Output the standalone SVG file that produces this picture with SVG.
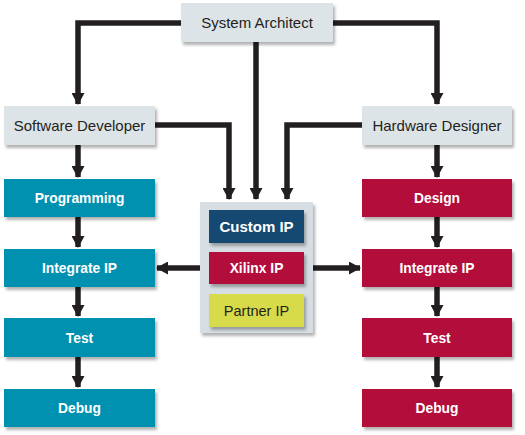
<svg xmlns="http://www.w3.org/2000/svg" width="525" height="435" viewBox="0 0 525 435">
<defs>
<filter id="sh" x="-10%" y="-10%" width="130%" height="140%">
<feDropShadow dx="2" dy="3" stdDeviation="1.5" flood-color="#000" flood-opacity="0.3"/>
</filter>
<marker id="ah" markerUnits="userSpaceOnUse" markerWidth="14" markerHeight="13" refX="11" refY="6.5" orient="auto">
<path d="M0,0 L12,6.5 L0,13 Z" fill="#231f20"/>
</marker>
</defs>
<style>
.g{fill:#dde4e8;filter:url(#sh)}
.t{fill:#0091b0;filter:url(#sh)}
.r{fill:#b3103a;filter:url(#sh)}
.dk{font-family:"Liberation Sans",Arial,sans-serif;font-size:15px;fill:#231f20;text-anchor:middle}
.w{font-family:"Liberation Sans",Arial,sans-serif;font-size:13.8px;font-weight:bold;fill:#fff;text-anchor:middle}
.c path{fill:none;stroke:#231f20;stroke-width:5.5;marker-end:url(#ah)}
</style>
<rect width="525" height="435" fill="#fff"/>
<g class="c">
<path d="M181,23 H78 V104"/>
<path d="M333,23 H437 V104"/>
<path d="M256,42 V199"/>
<path d="M155,125 H229 V199"/>
<path d="M362,125 H287 V199"/>
<path d="M78,145 V177"/>
<path d="M78,217 V247"/>
<path d="M78,287 V316"/>
<path d="M78,357 V387"/>
<path d="M437,145 V177"/>
<path d="M437,217 V247"/>
<path d="M437,287 V316"/>
<path d="M437,357 V387"/>
<path d="M200,268 H157"/>
<path d="M313,268 H360"/>
</g>
<g id="system-architect"><rect class="g" x="181" y="3" width="152" height="39"/><text class="dk" x="257" y="27.5">System Architect</text></g>
<g id="software-developer"><rect class="g" x="4" y="106" width="151" height="39"/><text class="dk" x="79.5" y="130.5">Software Developer</text></g>
<g id="hardware-designer"><rect class="g" x="362" y="106" width="150" height="39"/><text class="dk" x="437" y="130.5">Hardware Designer</text></g>
<g id="ip-library"><rect x="200" y="202" width="113" height="131" fill="#d6dee3" filter="url(#sh)"/></g>
<g id="custom-ip"><rect x="209" y="210" width="95" height="33" fill="#164a72" filter="url(#sh)"/><text class="w" x="256.5" y="232" style="font-size:15px">Custom IP</text></g>
<g id="xilinx-ip"><rect x="209" y="252" width="95" height="32" fill="#b3103a" filter="url(#sh)"/><text class="w" x="256.5" y="273">Xilinx IP</text></g>
<g id="partner-ip"><rect x="209" y="294" width="95" height="33" fill="#d8db48" filter="url(#sh)"/><text class="w" x="256.5" y="315.5" style="fill:#231f20;font-weight:normal;font-size:14.5px">Partner IP</text></g>
<g id="sw-programming"><rect class="t" x="4" y="179" width="151" height="38"/><text class="w" x="79.5" y="203">Programming</text></g>
<g id="sw-integrate"><rect class="t" x="4" y="249" width="151" height="38"/><text class="w" x="79.5" y="273">Integrate IP</text></g>
<g id="sw-test"><rect class="t" x="4" y="318" width="151" height="39"/><text class="w" x="79.5" y="342.5">Test</text></g>
<g id="sw-debug"><rect class="t" x="4" y="389" width="151" height="38"/><text class="w" x="79.5" y="413">Debug</text></g>
<g id="hw-design"><rect class="r" x="362" y="179" width="150" height="38"/><text class="w" x="437" y="203">Design</text></g>
<g id="hw-integrate"><rect class="r" x="362" y="249" width="150" height="38"/><text class="w" x="437" y="273">Integrate IP</text></g>
<g id="hw-test"><rect class="r" x="362" y="318" width="150" height="39"/><text class="w" x="437" y="342.5">Test</text></g>
<g id="hw-debug"><rect class="r" x="362" y="389" width="150" height="38"/><text class="w" x="437" y="413">Debug</text></g>
</svg>
